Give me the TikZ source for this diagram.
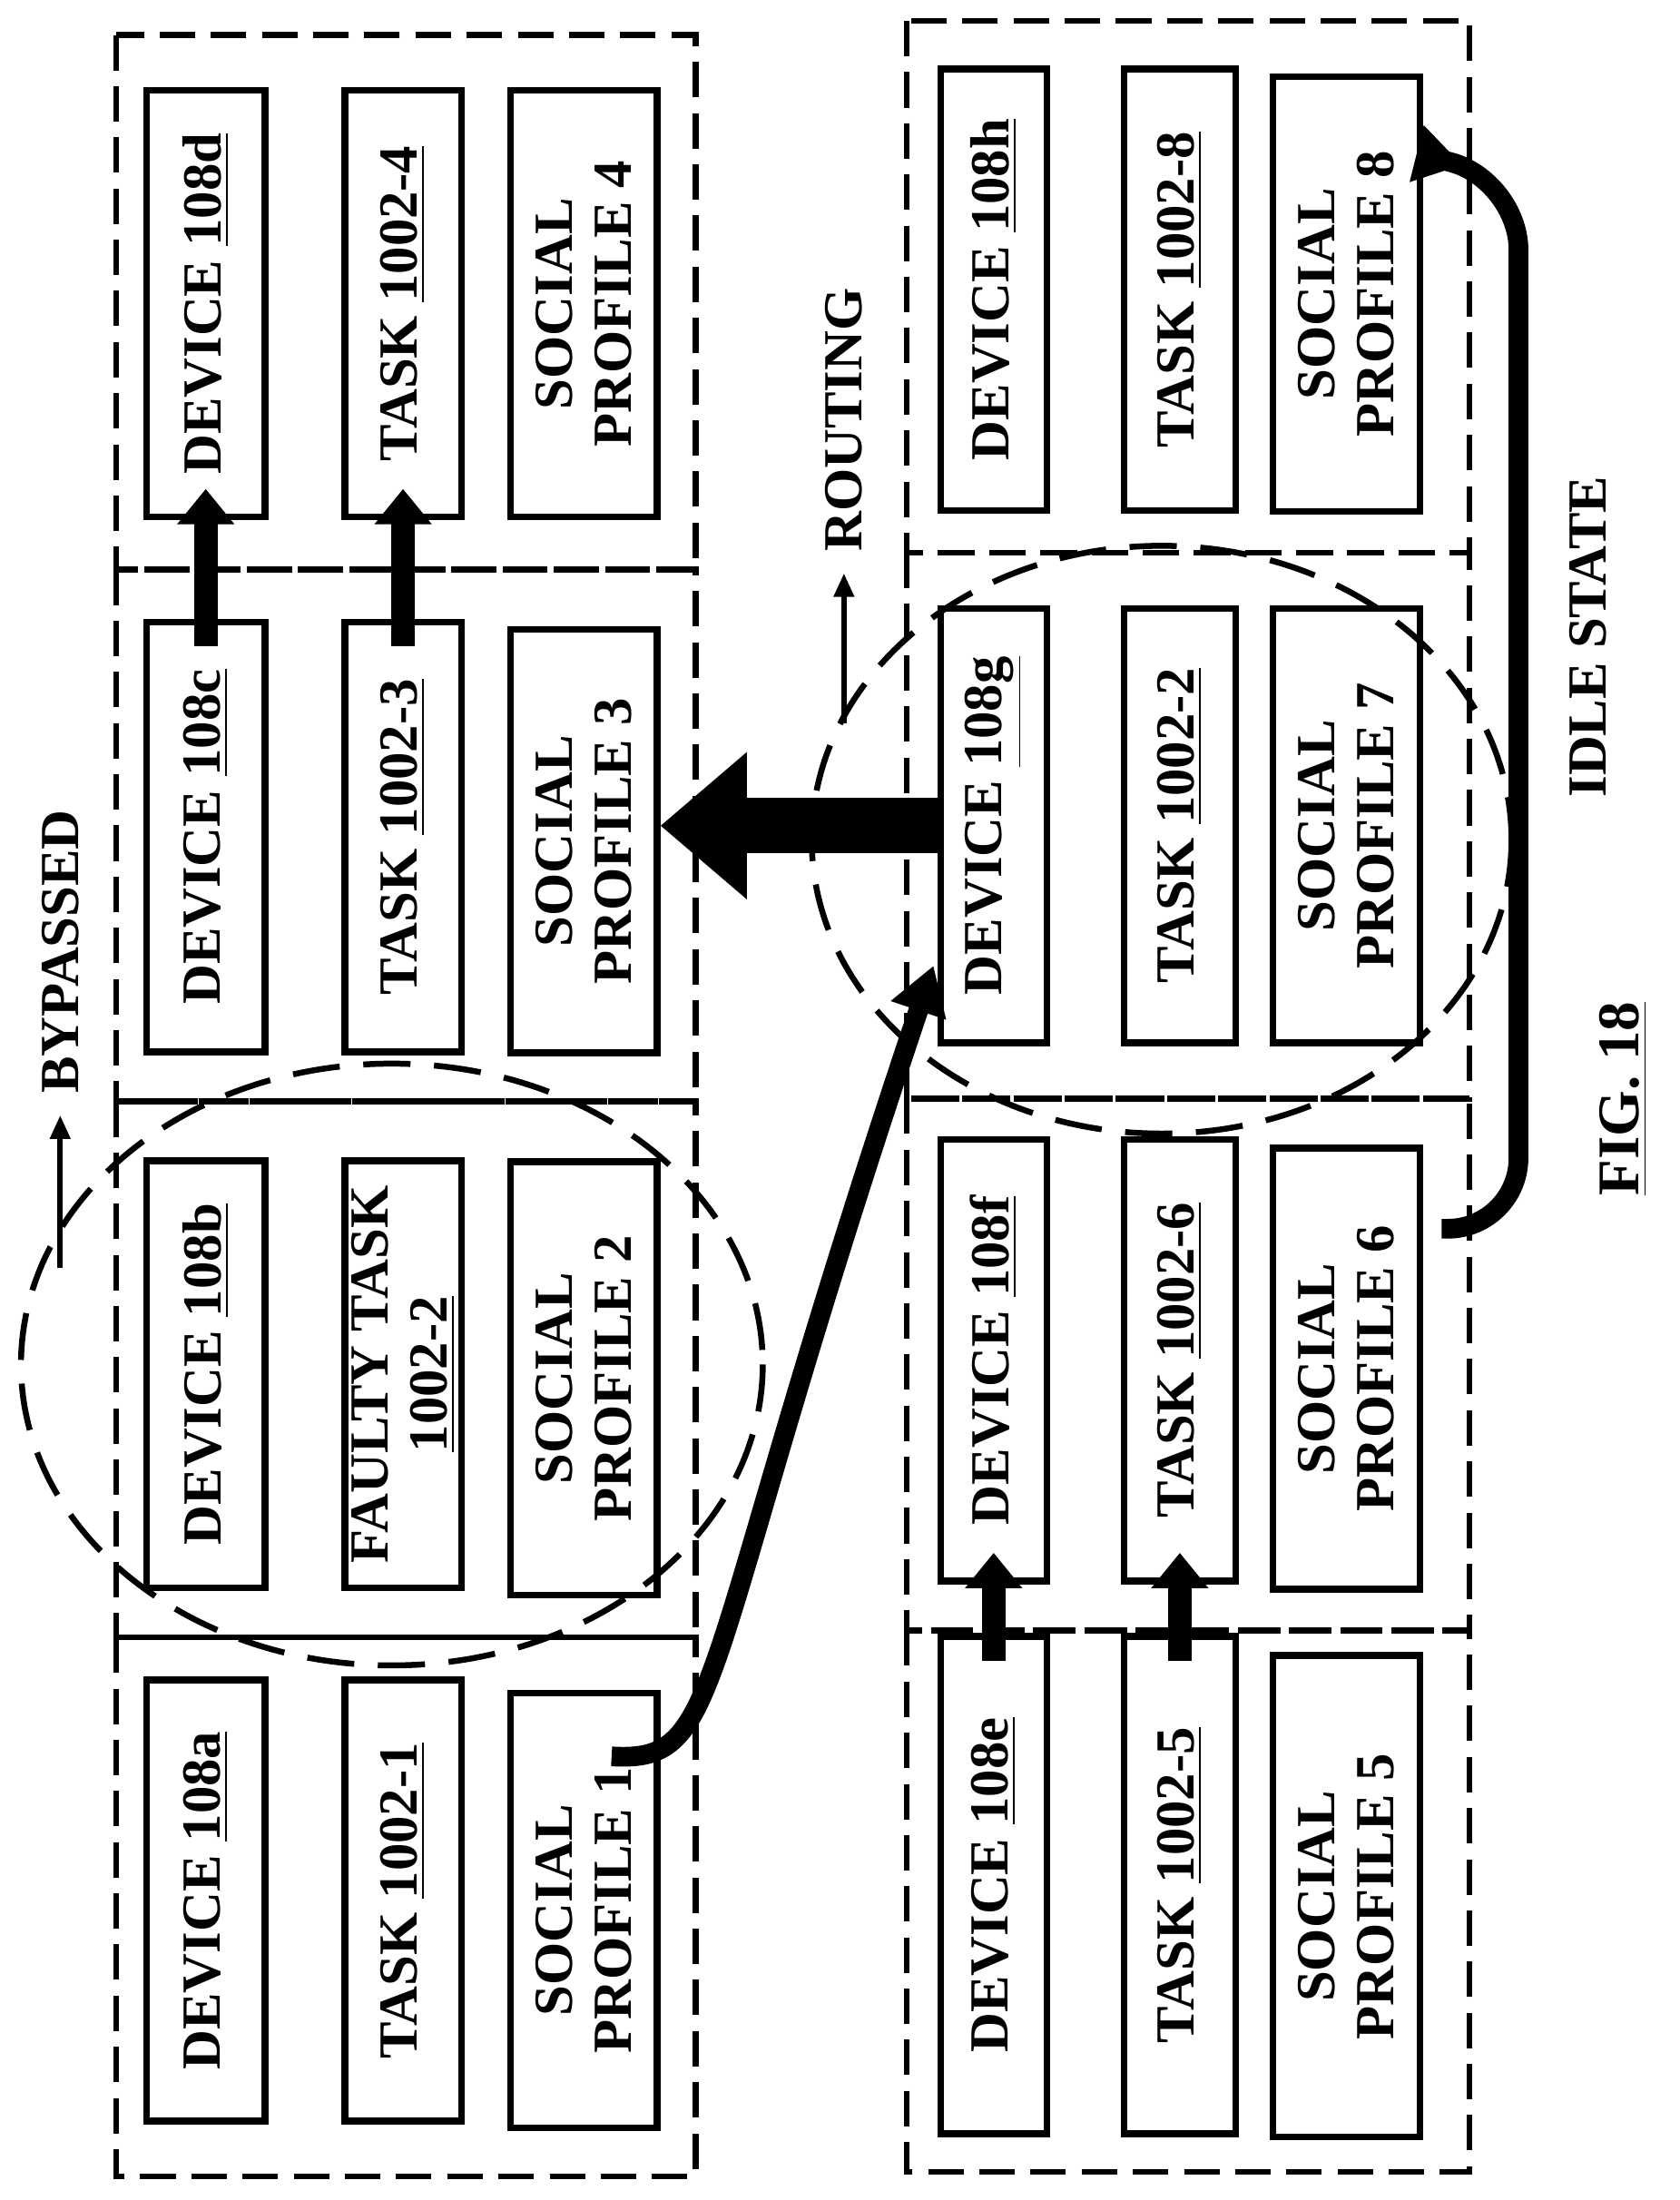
\documentclass[tikz,border=0pt]{standalone}
\usepackage{fontspec}
\setmainfont{Liberation Serif}
\usetikzlibrary{arrows.meta}
\begin{document}
\begin{tikzpicture}[x=0.0125cm,y=-0.0125cm]
    \tikzset{
    box/.style={draw,line width=1.7pt,rotate=90,align=center,font=\bfseries\fontsize{14}{15}\selectfont,inner sep=0pt},
    grp/.style={draw,line width=1.5pt,dash pattern=on 9pt off 4pt},
    oval/.style={draw,line width=1.5pt,dash pattern=on 12pt off 6pt},
    lbl/.style={rotate=90,font=\bfseries\fontsize{14}{15}\selectfont},
    up/.style={line width=6pt,-{Triangle[width=14pt,length=9pt]},shorten <=-7pt,shorten >=-8pt},
    thin/.style={line width=1.3pt,-{Triangle[width=5pt,length=6pt]},shorten >=2pt},
    }
    \useasboundingbox (0,0) rectangle (1200,1572);
    % dashed groups
    \draw[grp] (83,25) rectangle (497,407);
    \draw[grp] (83,407) rectangle (497,787);
    \draw[grp] (83,787) rectangle (497,1170);
    \draw[grp] (83,1170) rectangle (497,1555);
    \draw[grp] (648,15) rectangle (1050,395);
    \draw[grp] (648,395) rectangle (1050,785);
    \draw[grp] (648,785) rectangle (1050,1165);
    \draw[grp] (648,1165) rectangle (1050,1552);
    % ellipses
    \draw[oval] (280,975) ellipse [x radius=265,y radius=215];
    \draw[oval] (830,600) ellipse [x radius=250,y radius=210];
    % left column
    \node[box,minimum width=3.81cm,minimum height=1.06cm] (dev_d) at (147,217) {DEVICE \underline{108d}};
    \node[box,minimum width=3.81cm,minimum height=1.04cm] (task_d) at (288,217) {TASK \underline{1002-4}};
    \node[box,minimum width=3.81cm,minimum height=1.31cm] (soc_d) at (417,217) {SOCIAL\\PROFILE 4};
    \node[box,minimum width=3.84cm,minimum height=1.06cm] (dev_c) at (147,598) {DEVICE \underline{108c}};
    \node[box,minimum width=3.84cm,minimum height=1.04cm] (task_c) at (288,598) {TASK \underline{1002-3}};
    \node[box,minimum width=3.78cm,minimum height=1.31cm] (soc_c) at (417,601) {SOCIAL\\PROFILE 3};
    \node[box,minimum width=3.81cm,minimum height=1.06cm] (dev_b) at (147,982) {DEVICE \underline{108b}};
    \node[box,minimum width=3.81cm,minimum height=1.04cm] (task_b) at (288,982) {FAULTY TASK\\\underline{1002-2}};
    \node[box,minimum width=3.87cm,minimum height=1.31cm] (soc_b) at (417,985) {SOCIAL\\PROFILE 2};
    \node[box,minimum width=3.94cm,minimum height=1.06cm] (dev_a) at (147,1358) {DEVICE \underline{108a}};
    \node[box,minimum width=3.94cm,minimum height=1.04cm] (task_a) at (288,1358) {TASK \underline{1002-1}};
    \node[box,minimum width=3.88cm,minimum height=1.31cm] (soc_a) at (417,1365) {SOCIAL\\PROFILE 1};
    % right column
    \node[box,minimum width=3.94cm,minimum height=0.95cm] (dev_h) at (710,207) {DEVICE \underline{108h}};
    \node[box,minimum width=3.94cm,minimum height=1.0cm] (task_h) at (843,207) {TASK \underline{1002-8}};
    \node[box,minimum width=3.88cm,minimum height=1.31cm] (soc_h) at (962,210) {SOCIAL\\PROFILE 8};
    \node[box,minimum width=3.88cm,minimum height=0.95cm] (dev_g) at (710,590) {DEVICE \underline{108g}};
    \node[box,minimum width=3.88cm,minimum height=1.0cm] (task_g) at (843,590) {TASK \underline{1002-2}};
    \node[box,minimum width=3.88cm,minimum height=1.31cm] (soc_g) at (962,590) {SOCIAL\\PROFILE 7};
    \node[box,minimum width=3.94cm,minimum height=0.95cm] (dev_f) at (710,972) {DEVICE \underline{108f}};
    \node[box,minimum width=3.94cm,minimum height=1.0cm] (task_f) at (843,972) {TASK \underline{1002-6}};
    \node[box,minimum width=3.94cm,minimum height=1.31cm] (soc_f) at (962,978) {SOCIAL\\PROFILE 6};
    \node[box,minimum width=4.44cm,minimum height=0.95cm] (dev_e) at (710,1347) {DEVICE \underline{108e}};
    \node[box,minimum width=4.44cm,minimum height=1.0cm] (task_e) at (843,1347) {TASK \underline{1002-5}};
    \node[box,minimum width=4.3cm,minimum height=1.31cm] (soc_e) at (962,1355) {SOCIAL\\PROFILE 5};
    % labels
    \node[lbl] (bypassed) at (43,680) {BYPASSED};
    \node[lbl] (routing) at (603,300) {ROUTING};
    \node[lbl] (idle) at (1135,455) {IDLE STATE};
    \node[font=\bfseries\fontsize{15}{16}\selectfont,rotate=90] (fig) at (1160,785) {\underline{FIG. 18}};
    \coordinate (byp_tail) at (bypassed.west |- 0,906);
    \coordinate (rou_tail) at (routing.west |- 0,517);
    \draw[thin] (byp_tail) -- (bypassed.west);
    \draw[thin] (rou_tail) -- (routing.west);
    % arrows
    \draw[up] (dev_c.east) -- (dev_d.west);
    \draw[up] (task_c.east) -- (task_d.west);
    \draw[up] (dev_e.east) -- (dev_f.west);
    \draw[up] (task_e.east) -- (task_f.west);
    \draw[line width=14pt,-{Triangle[width=36pt,length=22pt]}] (dev_g.north) -- (dev_g.north -| soc_c.south);
    \coordinate (soc1_out) at (437,1255);
    \coordinate (g_in) at (667,690);
    \draw[line width=5pt,-{Triangle[width=14pt,length=12pt]}] (soc1_out) .. controls (520,1260) and (495,1200) .. (g_in);
    \coordinate (soc6_out) at (1030,878);
    \coordinate (h_in) at (1045,118);
    \draw[line width=5pt,rounded corners=18pt,-{Triangle[width=14pt,length=12pt]}] (soc6_out) -- (1085,878) -- (1085,128) -- (h_in);
\end{tikzpicture}
\end{document}
